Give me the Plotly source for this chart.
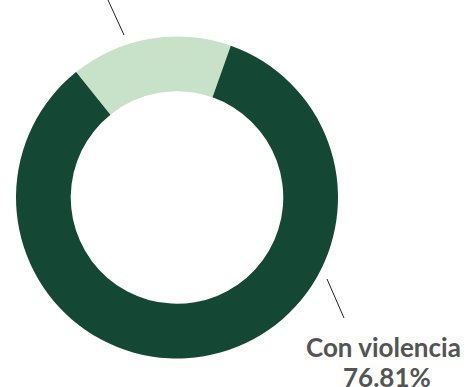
import plotly.graph_objects as go

# slices as drawn on the ring (light slice first, clockwise from its left edge)
categories = ["Sin violencia", "Con violencia"]
ring_values = [16.2, 83.8]
colors = ["#c8e2c9", "#144835"]

label_text = "Con violencia"
label_share = "76.81%"

W, H = 467, 387
cx, cy, r = 177, 197.5, 161  # donut centre / radius in pixels


def px_x(x):
    return x / W


def px_y(y):
    return 1 - y / H


fig = go.Figure()
fig.add_trace(go.Pie(
    labels=categories,
    values=ring_values,
    hole=0.66,
    sort=False,
    direction="clockwise",
    rotation=-38.8,
    marker=dict(colors=colors, line=dict(width=0)),
    textinfo="none",
    hoverinfo="label",
    showlegend=False,
    domain=dict(x=[px_x(cx - r), px_x(cx + r)], y=[px_y(cy + r), px_y(cy - r)]),
))

# leader lines
for x0, y0, x1, y1 in [(108, 0, 124, 35), (327, 279, 344, 318)]:
    fig.add_shape(type="line", xref="paper", yref="paper",
                  x0=px_x(x0), y0=px_y(y0), x1=px_x(x1), y1=px_y(y1),
                  line=dict(color="#222222", width=1))

# label, one annotation per line to keep the tight line spacing
for txt, x, y in [(label_text, 383.5, 329), (label_share, 387, 359)]:
    fig.add_annotation(
        x=px_x(x), y=px_y(y), xref="paper", yref="paper",
        xanchor="center", yanchor="top", showarrow=False,
        text=f"<b>{txt}</b>",
        font=dict(family="Lato", size=26, color="#545454"),
    )

fig.update_layout(
    width=W, height=H,
    margin=dict(l=0, r=0, t=0, b=0),
    paper_bgcolor="white",
    plot_bgcolor="white",
)

# drop the default 8px body margin so the figure sits at the window corner
fig.write_html("out.html", config={"displayModeBar": False},
               post_script="document.body.style.margin='0';document.body.style.overflow='hidden';")
